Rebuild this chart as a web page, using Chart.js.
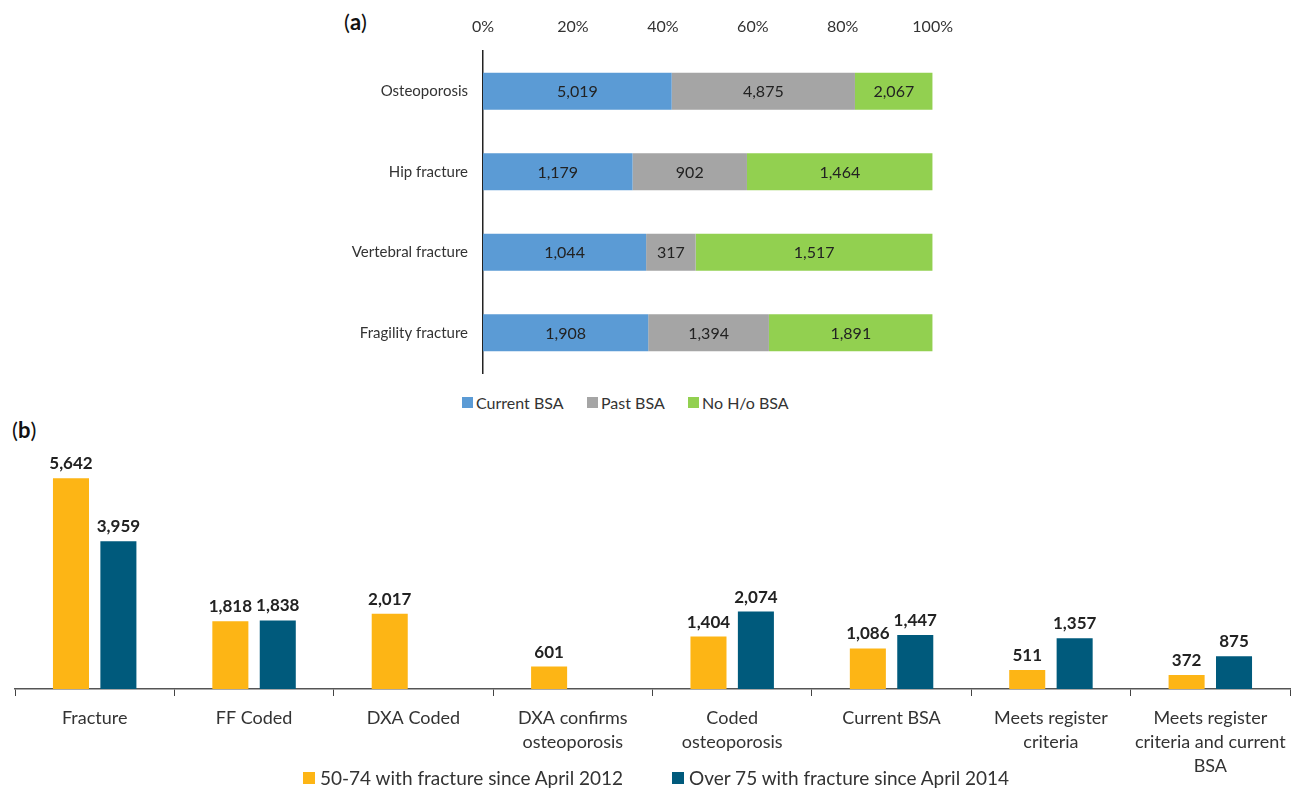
<!DOCTYPE html>
<html>
<head>
<meta charset="utf-8">
<script src="https://cdn.jsdelivr.net/npm/chart.js@4.4.1/dist/chart.umd.min.js"></script>
<style>
  body { margin: 0; width: 1299px; height: 789px; position: relative; background: #fff; overflow: hidden; font-family: Lato, sans-serif; }
  .panel { position: absolute; }
  .tag { position: absolute; font-size: 22px; color: #111; }
  .tag b { font-weight: 700; }
  .leg { position: absolute; color: #333; white-space: nowrap; line-height: 1; }
  .leg i { display: inline-block; vertical-align: 1px; }
</style>
</head>
<body>
<div class="tag" style="left:344px; top:8px;">(<b>a</b>)</div>
<div class="tag" style="left:12px; top:416px;">(<b>b</b>)</div>
<div class="panel" style="left:330px; top:0; width:630px; height:389px;"><canvas id="chartA"></canvas></div>
<div class="panel" style="left:0; top:430px; width:1299px; height:359px;"><canvas id="chartB"></canvas></div>
<div id="legendA"></div>
<div id="legendB"></div>
<script>
// panel (a): counts per row, drawn as 100% stacked shares
const rowsA = ['Osteoporosis', 'Hip fracture', 'Vertebral fracture', 'Fragility fracture'];
const currentBSA = [5019, 1179, 1044, 1908];
const pastBSA = [4875, 902, 317, 1394];
const noHistoryBSA = [2067, 1464, 1517, 1891];
const pctTicks = [0, 20, 40, 60, 80, 100];

// panel (b): grouped counts
const stagesB = [
  'Fracture', 'FF Coded', 'DXA Coded', ['DXA confirms', 'osteoporosis'],
  ['Coded', 'osteoporosis'], 'Current BSA', ['Meets register', 'criteria'],
  ['Meets register', 'criteria and current', 'BSA']
];
const age50to74 = [5642, 1818, 2017, 601, 1404, 1086, 511, 372];
const over75 = [3959, 1838, null, null, 2074, 1447, 1357, 875];

const totalsA = rowsA.map((_, i) => currentBSA[i] + pastBSA[i] + noHistoryBSA[i]);
const share = arr => arr.map((v, i) => v / totalsA[i] * 100);

const valueLabels = {
  id: 'valueLabels',
  afterDatasetsDraw(chart, args, opts) {
    const ctx = chart.ctx;
    ctx.save();
    ctx.font = opts.font;
    ctx.fillStyle = opts.color;
    ctx.textAlign = 'center';
    chart.data.datasets.forEach((ds, i) => {
      chart.getDatasetMeta(i).data.forEach((bar, j) => {
        const v = ds.counts[j];
        if (v == null) return;
        const txt = v.toLocaleString('en-US');
        if (opts.inside) {
          const c = bar.getCenterPoint();
          ctx.textBaseline = 'middle';
          ctx.fillText(txt, c.x, c.y + 1);
        } else {
          ctx.textBaseline = 'bottom';
          ctx.fillText(txt, bar.x, bar.y - opts.offset);
        }
      });
    });
    ctx.restore();
  }
};

// simple html legend, one entry per dataset
function buildLegend(el, chart, items, size, box) {
  el.className = 'leg';
  el.style.fontSize = size + 'px';
  chart.data.datasets.forEach((ds, i) => {
    const it = document.createElement('div');
    it.style.position = 'absolute';
    it.style.left = items[i].x + 'px';
    it.style.top = items[i].y + 'px';
    it.innerHTML = `<i style="width:${box}px;height:${box}px;background:${ds.backgroundColor};margin-right:${items[i].gap}px"></i>${ds.label}`;
    el.appendChild(it);
  });
}

Chart.defaults.font.family = 'Lato, sans-serif';
Chart.defaults.color = '#333';

const chartA = new Chart(document.getElementById('chartA'), {
  type: 'bar',
  data: {
    labels: rowsA,
    datasets: [
      { label: 'Current BSA', data: share(currentBSA), counts: currentBSA, backgroundColor: '#5B9BD5' },
      { label: 'Past BSA', data: share(pastBSA), counts: pastBSA, backgroundColor: '#A5A5A5' },
      { label: 'No H/o BSA', data: share(noHistoryBSA), counts: noHistoryBSA, backgroundColor: '#92D050' }
    ]
  },
  plugins: [valueLabels],
  options: {
    indexAxis: 'y',
    responsive: true,
    maintainAspectRatio: false,
    animation: false,
    layout: { padding: { left: 0, right: 23, top: 0, bottom: 0 } },
    datasets: { bar: { categoryPercentage: 0.5, barPercentage: 0.925 } },
    scales: {
      x: {
        position: 'top',
        stacked: true,
        min: 0, max: 100,
        afterBuildTicks: s => { s.ticks = pctTicks.map(v => ({ value: v })); },
        afterFit: s => { s.height = 51; },
        grid: { display: false },
        border: { display: false },
        ticks: { callback: v => v + '%', font: { size: 16 }, color: '#333', padding: 7 }
      },
      y: {
        stacked: true,
        afterFit: s => { s.width = 153; },
        grid: { display: false },
        border: { display: true, color: '#222', width: 1.5 },
        ticks: { font: { size: 15 }, color: '#333', padding: 7 }
      }
    },
    plugins: {
      legend: { display: false },
      tooltip: { enabled: false },
      valueLabels: { inside: true, font: '16px Lato, sans-serif', color: '#222' }
    }
  }
});

const chartB = new Chart(document.getElementById('chartB'), {
  type: 'bar',
  data: {
    labels: stagesB,
    datasets: [
      { label: '50-74 with fracture since April 2012', data: age50to74, counts: age50to74, backgroundColor: '#FDB515' },
      { label: 'Over 75 with fracture since April 2014', data: over75, counts: over75, backgroundColor: '#005A7C' }
    ]
  },
  plugins: [valueLabels],
  options: {
    responsive: true,
    maintainAspectRatio: false,
    animation: false,
    layout: { padding: { left: 15, right: 9, top: 35, bottom: 0 } },
    datasets: { bar: { categoryPercentage: 0.595, barPercentage: 0.76 } },
    scales: {
      x: {
        afterFit: s => { s.height = 100; },
        grid: { display: true, drawOnChartArea: false, tickLength: 7, color: '#444', offset: true },
        border: { display: true, color: '#555', width: 1.5 },
        ticks: { font: { size: 18, lineHeight: 1.333 }, color: '#333', padding: 10, autoSkip: false, maxRotation: 0 }
      },
      y: { display: false, min: 0, max: 6000 }
    },
    plugins: {
      legend: { display: false },
      tooltip: { enabled: false },
      valueLabels: { inside: false, offset: 6, font: 'bold 17px Lato, sans-serif', color: '#222' }
    }
  }
});

buildLegend(document.getElementById('legendA'), chartA, [
  { x: 462, y: 395, gap: 3 }, { x: 587, y: 395, gap: 3 }, { x: 688, y: 395, gap: 3 }
], 16, 11);
buildLegend(document.getElementById('legendB'), chartB, [
  { x: 303, y: 768, gap: 5 }, { x: 672, y: 768, gap: 5 }
], 19, 12);
</script>
</body>
</html>
